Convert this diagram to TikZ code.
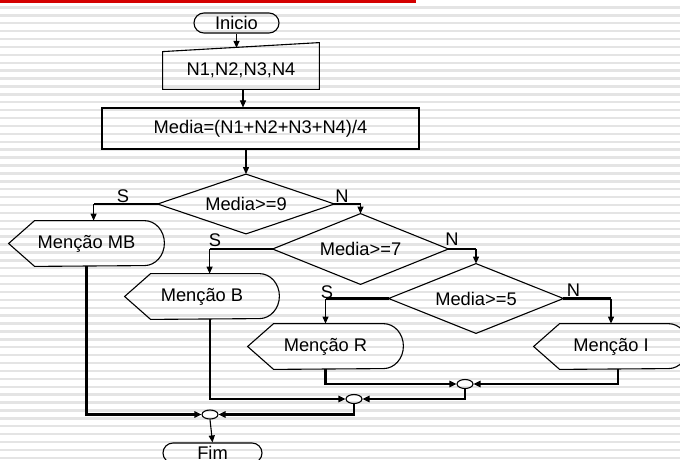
\documentclass[tikz,border=0pt]{standalone}
\usepackage{fontspec}
\setmainfont{Liberation Sans}
\usetikzlibrary{arrows.meta,shapes.geometric,shapes.misc,calc}
\definecolor{barred}{RGB}{212,0,0}
\definecolor{stripe}{RGB}{228,228,228}
\begin{document}
\begin{tikzpicture}[x=0.5pt,y=-0.5pt,
  every node/.style={font=\fontsize{9.15pt}{11pt}\selectfont, inner sep=0pt},
  ol/.style={line width=0.55pt},
  thk/.style={line width=1.1pt},
  arr/.style={line width=0.55pt,-{Triangle[length=3.5pt,width=3pt]}},
  tarr/.style={line width=1.1pt,-{Triangle[length=3.5pt,width=3.2pt]}},
  term/.style={rounded rectangle, draw, line width=0.55pt, minimum height=10pt},
  dia/.style 2 args={rectangle, minimum width=#1, minimum height=#2},
  disp/.style={rectangle, minimum width=#1, minimum height=22.5pt},
  conn/.style={ellipse, draw, line width=0.55pt, minimum width=8pt, minimum height=4.5pt}
]
% background
\useasboundingbox (0,0) rectangle (680,460);
\fill[white] (0,0) rectangle (680,460);
\foreach \k in {0,...,58} \fill[stripe] (0,{6.3+7.9*\k}) rectangle (680,{8.7+7.9*\k});
\fill[barred] (0,0) rectangle (416,3);

% nodes
\node[term, minimum width=42.5pt] (ini) at (236.5,23) {Inicio};
\node[rectangle, minimum width=78pt, minimum height=18.5pt] (inp) at (241,70.5) {N1,N2,N3,N4};
\draw[ol] (inp.north west) -- ($(inp.north east)+(0,-9)$) -- (inp.south east) -- (inp.south west) -- cycle;
\node[draw, ol, minimum width=158.5pt, minimum height=20.5pt] (calc) at (260.5,128.5) {Media=(N1+N2+N3+N4)/4};

\node[dia={88pt}{29.5pt}] (d1) at (246,204) {Media>=9};
\node[dia={87.5pt}{35pt}] (d2) at (360.5,249) {Media>=7};
\node[dia={87pt}{34.5pt}] (d3) at (476,298.5) {Media>=5};
\foreach \n in {d1,d2,d3}
  \draw[ol] (\n.west) -- (\n.north) -- (\n.east) -- (\n.south) -- cycle;

\node[disp=77.5pt] (mMB) at (86.5,243.5) {Menção MB};
\node[disp=77pt] (mB) at (202,296.5) {Menção B};
\node[disp=77.5pt] (mR) at (325.5,346.5) {Menção R};
\node[disp=77pt] (mI) at (611,346.5) {Menção I};
\foreach \n in {mMB,mB,mR,mI}
  \draw[ol] (\n.west) -- ($(\n.north west)+(26,0)$) -- ($(\n.north east)+(-20,0)$)
    arc[start angle=90,end angle=-90,x radius=10pt,y radius=11.25pt]
    -- ($(\n.south west)+(26,0)$) -- cycle;

\node[conn] (c1) at (210,414.5) {};
\node[conn] (c2) at (354,399) {};
\node[conn] (c3) at (465,384) {};
\node[term, minimum width=49.5pt] (fim) at (212.5,453) {Fim};

% labels
\node (lS1) at (123,196) {S};
\node (lN1) at (342,196) {N};
\node (lS2) at (215,240) {S};
\node (lN2) at (452,239) {N};
\node (lS3) at (327,292) {S};
\node (lN3) at (573.5,290.5) {N};

% connectors
\coordinate (inptop) at (236.5,47.9);
\draw[arr] (ini.south) -- (inptop);
\coordinate (t) at ($(inp.south)+(2,0)$);
\draw[arr] (t) -- (t |- calc.north);
\draw[arr] (d1.north |- calc.south) -- (d1.north);

\draw[thk] (d1.west) -- ++(-64,0) coordinate (s1);
\draw[arr] (s1) -- (s1 |- mMB.north);
\draw[thk] (d1.east) -- (d1.east -| d2.north) coordinate (n1);
\draw[arr] (n1) -- (d2.north);
\draw[thk] (d2.west) -- ++(-63,0) coordinate (s2);
\draw[arr] (s2) -- (s2 |- mB.north);
\draw[thk] (d2.east) -- (d2.east -| d3.north) coordinate (n2);
\draw[arr] (n2) -- (d3.north);
\draw[thk] (d3.west) -- (d3.west -| mR.north) coordinate (s3);
\draw[arr] (s3) -- (mR.north);
\draw[thk] (d3.east) -- (d3.east -| mI.north) coordinate (n3);
\draw[arr] (n3) -- (mI.north);

\draw[tarr] (mMB.south) |- (c1.west);
\draw[tarr] ($(mB.south)+(8,0)$) |- (c2.west);
\draw[tarr] (mR.south) |- (c3.west);
\draw[tarr] ($(mI.south)+(7,0)$) |- (c3.east);
\draw[tarr] (c3.south) |- (c2.east);
\draw[tarr] (c2.south) |- (c1.east);
\draw[arr] (c1.south) -- (fim.north);
\end{tikzpicture}
\end{document}
